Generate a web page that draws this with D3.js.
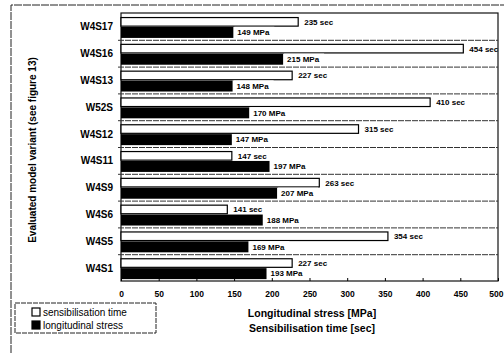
<!DOCTYPE html>
<html>
<head>
<meta charset="utf-8">
<script src="https://cdn.jsdelivr.net/npm/d3@7"></script>
<style>
  body { margin: 0; background: #fff; }
  svg { font-family: "Liberation Sans", Arial, sans-serif; }
</style>
</head>
<body>
<div id="chart"></div>
<script>
// data, top to bottom
var variants = ['W4S17', 'W4S16', 'W4S13', 'W52S', 'W4S12', 'W4S11', 'W4S9', 'W4S6', 'W4S5', 'W4S1'];
var sensTime = [235, 454, 227, 410, 315, 147, 263, 141, 354, 227];
var longStress = [149, 215, 148, 170, 147, 197, 207, 188, 169, 193];
var xTicks = [0, 50, 100, 150, 200, 250, 300, 350, 400, 450, 500];

var W = 504, H = 353;
var m = { left: 121, right: 6, top: 13, bottom: 72 };

var svg = d3.select('#chart').append('svg')
  .attr('width', W)
  .attr('height', H);

// outer frame (only top and left visible in the scan)
svg.append('path')
  .attr('d', 'M11,353 L11,5 L504,5')
  .attr('fill', 'none')
  .attr('stroke', '#222')
  .attr('stroke-width', 1)
  .attr('stroke-dasharray', '8,1');

var x = d3.scaleLinear().domain([0, 500]).range([m.left, 498]);
var y = d3.scaleBand().domain(variants).range([m.top, H - m.bottom]);

// plot frame
svg.append('rect')
  .attr('x', x(0))
  .attr('y', m.top)
  .attr('width', x(500) - x(0))
  .attr('height', y.range()[1] - m.top)
  .attr('fill', 'none')
  .attr('stroke', '#111')
  .attr('stroke-width', 1.2);

// band separators
svg.selectAll('line.sep')
  .data(variants.slice(1))
  .join('line')
    .attr('class', 'sep')
    .attr('x1', x(0) - 3)
    .attr('x2', x(500))
    .attr('y1', d => y(d) + 0.5)
    .attr('y2', d => y(d) + 0.5)
    .attr('stroke', '#333')
    .attr('stroke-width', 1)
    .attr('stroke-dasharray', '6,1');

var bw = y.bandwidth();
var rows = variants.map((v, i) => ({ name: v, sec: sensTime[i], mpa: longStress[i] }));

var g = svg.selectAll('g.row')
  .data(rows)
  .join('g')
    .attr('class', 'row')
    .attr('transform', d => 'translate(0,' + y(d.name) + ')');

// sensibilisation time (white bars)
g.append('rect')
  .attr('x', x(0))
  .attr('y', bw * 0.17)
  .attr('width', d => x(d.sec) - x(0))
  .attr('height', bw * 0.32)
  .attr('fill', '#fff')
  .attr('stroke', '#000')
  .attr('stroke-width', 1.2);

// longitudinal stress (black bars)
g.append('rect')
  .attr('x', x(0))
  .attr('y', bw * 0.52)
  .attr('width', d => x(d.mpa) - x(0))
  .attr('height', bw * 0.41)
  .attr('fill', '#000');

g.append('text')
  .attr('x', d => x(d.sec) + 6)
  .attr('y', bw * 0.33 + 3)
  .attr('font-size', 8)
  .attr('font-weight', 'bold')
  .text(d => d.sec + ' sec');

var mpaLab = g.append('g')
  .attr('transform', d => 'translate(' + (x(d.mpa) + 1) + ',' + (bw * 0.72) + ')');
mpaLab.append('rect')
  .attr('x', 0)
  .attr('y', -5.5)
  .attr('width', 40)
  .attr('height', 11)
  .attr('fill', '#fff');
mpaLab.append('text')
  .attr('x', 3)
  .attr('y', 3)
  .attr('font-size', 8)
  .attr('font-weight', 'bold')
  .text(d => d.mpa + ' MPa');

// category labels
svg.selectAll('text.cat')
  .data(variants)
  .join('text')
    .attr('class', 'cat')
    .attr('x', 113)
    .attr('y', d => y(d) + bw / 2 + 4)
    .attr('text-anchor', 'end')
    .attr('font-size', 10)
    .attr('font-weight', 'bold')
    .text(d => d);

// x axis
var xAxis = svg.append('g')
  .attr('transform', 'translate(0,' + y.range()[1] + ')')
  .call(d3.axisBottom(x).tickValues(xTicks).tickSize(-3).tickPadding(10));
xAxis.select('.domain').remove();
xAxis.selectAll('line').attr('stroke', '#000');
xAxis.selectAll('text')
  .attr('font-family', '"Liberation Sans", Arial, sans-serif')
  .attr('font-size', 8.5)
  .attr('font-weight', 'bold')
  .attr('fill', '#000');
// last label would run off the page edge: keep it inside
xAxis.selectAll('.tick')
  .filter(d => d === 500)
  .select('text')
    .attr('text-anchor', 'end')
    .attr('dx', 5);

// axis titles
svg.append('text')
  .attr('x', 312)
  .attr('y', 317)
  .attr('text-anchor', 'middle')
  .attr('font-size', 10.5)
  .attr('font-weight', 'bold')
  .text('Longitudinal stress [MPa]');
svg.append('text')
  .attr('x', 312)
  .attr('y', 332)
  .attr('text-anchor', 'middle')
  .attr('font-size', 10.5)
  .attr('font-weight', 'bold')
  .text('Sensibilisation time [sec]');

svg.append('text')
  .attr('transform', 'translate(36,' + 150 + ') rotate(-90)')
  .attr('text-anchor', 'middle')
  .attr('font-size', 10)
  .attr('font-weight', 'bold')
  .text('Evaluated model variant (see figure 13)');

// legend
var leg = svg.append('g').attr('transform', 'translate(15,303)');
leg.append('rect')
  .attr('width', 141)
  .attr('height', 30)
  .attr('fill', '#fff')
  .attr('stroke', '#222')
  .attr('stroke-dasharray', '5,1');
var legItems = [
  { label: 'sensibilisation time', fill: '#fff' },
  { label: 'longitudinal stress', fill: '#000' }
];
var li = leg.selectAll('g.li')
  .data(legItems)
  .join('g')
    .attr('class', 'li')
    .attr('transform', (d, i) => 'translate(17,' + (9 + i * 13) + ')');
li.append('rect')
  .attr('x', 0)
  .attr('y', -4)
  .attr('width', 8)
  .attr('height', 8)
  .attr('fill', d => d.fill)
  .attr('stroke', '#000')
  .attr('stroke-width', 1.2);
li.append('text')
  .attr('x', 11)
  .attr('y', 4)
  .attr('font-size', 10)
  .text(d => d.label);
</script>
</body>
</html>
